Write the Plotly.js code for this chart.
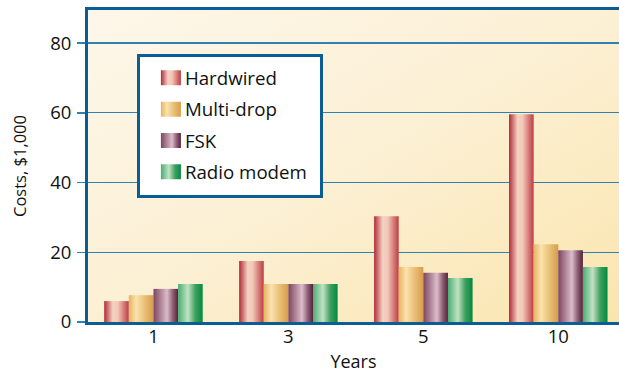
<!DOCTYPE html>
<html>
<head>
<meta charset="utf-8">
<script src="https://cdn.plot.ly/plotly-3.0.1.min.js"></script>
<style>html,body{margin:0;padding:0;background:#fff;}#chart{width:619px;height:373px;}</style>
</head>
<body>
<div id="chart"></div>
<script>
const years = ["1", "3", "5", "10"];
const seriesNames = ["Hardwired", "Multi-drop", "FSK", "Radio modem"];
const hardwired = [6.0, 17.5, 30.3, 59.6];
const multiDrop = [7.7, 10.9, 15.8, 22.3];
const fsk = [9.5, 10.9, 14.1, 20.6];
const radioModem = [10.9, 10.9, 12.6, 15.8];
const seriesValues = [hardwired, multiDrop, fsk, radioModem];

const baseColors = ["#d0666a", "#e8be70", "#9a6880", "#40a868"];
const gradStops = [
  [["0%", "#b22a38"], ["35%", "#f4d2c2"], ["55%", "#f2c8b8"], ["100%", "#bf3c44"]],
  [["0%", "#e6b460"], ["30%", "#fbe2ae"], ["60%", "#ecc47c"], ["100%", "#d89c4c"]],
  [["0%", "#7c4660"], ["55%", "#dcbcca"], ["80%", "#8a5a70"], ["100%", "#55223c"]],
  [["0%", "#4aae72"], ["40%", "#c2e2c4"], ["70%", "#40a060"], ["100%", "#008a40"]]
];

const font = "'Open Sans', 'DejaVu Sans', sans-serif";
const blue = "#0b5e94";

const traces = seriesNames.map((name, i) => ({
  type: "bar",
  name: name,
  x: years,
  y: seriesValues[i],
  legendgroup: "g" + i,
  marker: {color: baseColors[i], line: {width: 0}},
  hoverinfo: "none"
}));

const layout = {
  width: 619,
  height: 373,
  margin: {l: 88, r: 0, t: 10, b: 51},
  paper_bgcolor: "#ffffff",
  plot_bgcolor: "#fcf1d6",
  font: {family: font, size: 16, color: "#111111"},
  barmode: "group",
  bargap: 0.27,
  bargroupgap: 0,
  showlegend: true,
  legend: {
    x: 0.094, y: 0.852, xanchor: "left", yanchor: "top",
    bgcolor: "#ffffff", bordercolor: blue, borderwidth: 3,
    font: {family: font, size: 18.7, color: "#111111"},
    traceorder: "grouped", tracegroupgap: 4, itemwidth: 34
  },
  xaxis: {
    type: "category",
    range: [-0.485, 3.45],
    showline: true, linecolor: blue, linewidth: 3, mirror: true,
    ticks: "", showgrid: false,
    tickfont: {family: font, size: 18.5, color: "#111111"},
    title: {text: "Years", font: {family: font, size: 18, color: "#111111"}, standoff: 13}
  },
  yaxis: {
    range: [0, 89.5],
    tickvals: [0, 20, 40, 60, 80],
    showline: true, linecolor: blue, linewidth: 3,
    ticks: "outside", ticklen: 8, tickcolor: "#2f80b3", tickwidth: 1.4,
    ticklabelstandoff: 2,
    showgrid: true, gridcolor: "#2f80b3", gridwidth: 1.3,
    zeroline: false,
    tickfont: {family: font, size: 18.5, color: "#111111"},
    title: {text: "Costs, $1,000", font: {family: font, size: 16.5, color: "#111111"}, standoff: 20}
  }
};

Plotly.newPlot("chart", traces, layout, {staticPlot: true}).then(gd => {
  const svgNS = "http://www.w3.org/2000/svg";
  const svg = gd.querySelector("svg.main-svg");
  let defs = svg.querySelector("defs");
  if (!defs) { defs = document.createElementNS(svgNS, "defs"); svg.insertBefore(defs, svg.firstChild); }
  function mkGrad(id, stops, x2, y2) {
    const g = document.createElementNS(svgNS, "linearGradient");
    g.setAttribute("id", id);
    g.setAttribute("x1", "0"); g.setAttribute("y1", "0");
    g.setAttribute("x2", x2); g.setAttribute("y2", y2);
    stops.forEach(s => {
      const st = document.createElementNS(svgNS, "stop");
      st.setAttribute("offset", s[0]);
      st.setAttribute("stop-color", s[1]);
      g.appendChild(st);
    });
    defs.appendChild(g);
  }
  gradStops.forEach((st, i) => mkGrad("barGrad" + i, st, "1", "0"));
  mkGrad("bgGrad", [["0%", "#fdf7ea"], ["50%", "#fcf0d4"], ["100%", "#fbe5ae"]], "1", "1");

  const bg = svg.querySelector("g.bglayer rect.bg") || svg.querySelector("rect.bg");
  if (bg) bg.style.fill = "url(#bgGrad)";

  gd.querySelectorAll("g.trace.bars").forEach((tr, i) => {
    tr.querySelectorAll("path").forEach(p => { p.style.fill = "url(#barGrad" + i + ")"; });
  });
  gd.querySelectorAll("g.legend g.traces").forEach((tr, i) => {
    tr.querySelectorAll("path.legendbar, g.legendpoints path").forEach(p => {
      p.style.fill = "url(#barGrad" + i + ")";
      p.setAttribute("d", "M18,7.5H-2V-7.5H18Z");
      p.style.stroke = "none";
    });
  });

  // x tick labels sit a little closer to the axis in the reference
  gd.querySelectorAll("g.xtick text").forEach(t => {
    const y = parseFloat(t.getAttribute("y")) || 0;
    t.setAttribute("y", y - 4);
  });

  // enlarge the legend frame to the reference's box
  let lr = null;
  gd.querySelectorAll("svg.main-svg").forEach(s => { if (!lr) lr = s.querySelector("g.legend rect.bg"); });
  if (lr) {
    const sr = svg.getBoundingClientRect();
    const cr = lr.getBoundingClientRect();
    const curX = cr.left - sr.left, curY = cr.top - sr.top;
    const ax = parseFloat(lr.getAttribute("x")) || 0;
    const ay = parseFloat(lr.getAttribute("y")) || 0;
    lr.setAttribute("x", ax + (138.5 - curX));
    lr.setAttribute("y", ay + (55.5 - curY));
    lr.setAttribute("width", 183);
    lr.setAttribute("height", 141);
  }
});
</script>
</body>
</html>
